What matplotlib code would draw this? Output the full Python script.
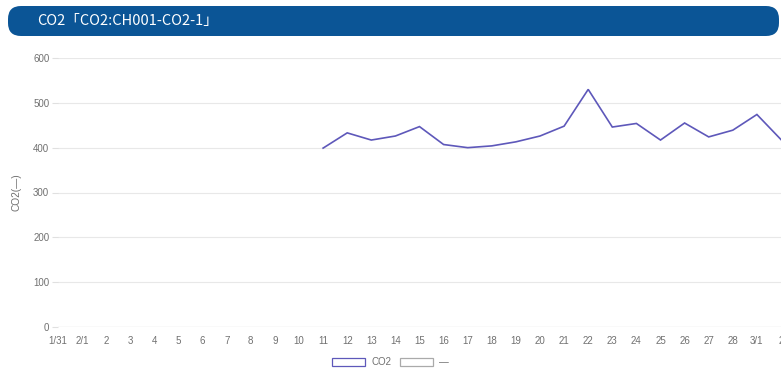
import numpy as np
import matplotlib
matplotlib.use("Agg")
import matplotlib.pyplot as plt
from matplotlib.patches import FancyBboxPatch, Patch

# ---- data ----
categories = ["1/31", "2/1"] + [str(d) for d in range(2, 29)] + ["3/1", "2"]
co2_values = [None] * 11 + [399, 433, 417, 426, 447, 407, 400, 404, 413, 426,
                            448, 530, 446, 454, 417, 455, 424, 439, 474, 418]
y_ticks = [0, 100, 200, 300, 400, 500, 600]
title_text = "CO2「CO2:CH001-CO2-1」"
y_label = "CO2(—)"
legend_labels = ["CO2", "—"]

W, H = 781, 368
DPI = 100
fig = plt.figure(figsize=(W / DPI, H / DPI), dpi=DPI)
fig.patch.set_facecolor("white")

# overlay in pixel coordinates for the banner
bg = fig.add_axes([0, 0, 1, 1], zorder=0)
bg.set_xlim(0, W)
bg.set_ylim(H, 0)
bg.axis("off")
banner = FancyBboxPatch((8, 6), 771, 30, boxstyle="round,pad=0,rounding_size=13",
                        facecolor="#0b5596", edgecolor="none")
bg.add_patch(banner)
bg.text(37, 20.5, title_text, color="white", fontsize=10.5, va="center", ha="left",
        family=["Noto Sans CJK JP", "DejaVu Sans"])

# main plot
left, right = 58, 781
top, bottom = 58, 327
ax = fig.add_axes([left / W, 1 - bottom / H, (right - left) / W, (bottom - top) / H], zorder=1)
ax.set_facecolor("none")

x = np.arange(len(categories))
y = np.array([np.nan if v is None else v for v in co2_values], dtype=float)
ax.plot(x, y, color="#5e58ba", lw=1.2, solid_joinstyle="miter", clip_on=False)

ax.set_xlim(0, len(categories) - 1)
ax.set_ylim(0, 600)
ax.set_yticks(y_ticks)
ax.set_xticks(x)
ax.set_xticklabels(categories)

for s in ["left", "right", "top", "bottom"]:
    ax.spines[s].set_visible(False)

for t in y_ticks:
    ax.axhline(t, color="#d0d0d0" if t == 0 else "#e8e8e8", lw=0.9 if t == 0 else 0.8, zorder=0)

ax.tick_params(axis="y", length=4.3, width=0.8, color="#e0e0e0", pad=2,
               labelsize=7, labelcolor="#707070")
ax.tick_params(axis="x", length=0, pad=6.5, labelsize=7, labelcolor="#707070")
for lab in ax.get_xticklabels() + ax.get_yticklabels():
    lab.set_family("Liberation Sans")

fig.text(17 / W, 1 - 192.5 / H, y_label, rotation=90, va="center", ha="center",
         fontsize=7.3, color="#707070", family="Liberation Sans")

handles = [Patch(facecolor="white", edgecolor="#5e58ba", lw=0.9),
           Patch(facecolor="white", edgecolor="#aaaaaa", lw=0.9)]
leg = fig.legend(handles, legend_labels, loc="center", bbox_to_anchor=(0.5, 1 - 362 / H),
                 ncol=2, frameon=False, handlelength=3.4, handleheight=0.85,
                 handletextpad=0.6, columnspacing=0.9, borderpad=0,
                 prop={"family": "Liberation Sans", "size": 7})
for t in leg.get_texts():
    t.set_color("#707070")

fig.savefig("out.png", dpi=DPI, facecolor="white")
